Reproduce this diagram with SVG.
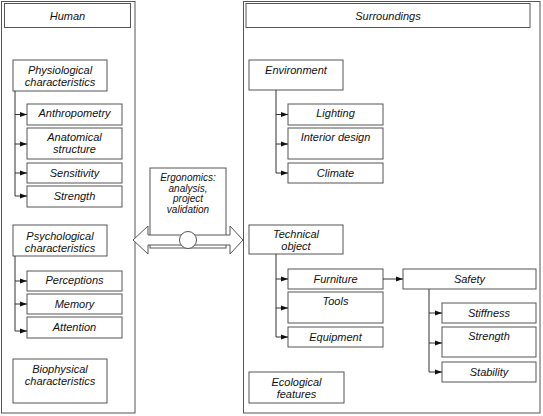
<svg xmlns="http://www.w3.org/2000/svg" width="543" height="416" viewBox="0 0 543 416">
<style>
.b{fill:#fff;stroke:#555;stroke-width:1}
.o{fill:none;stroke:#555;stroke-width:1}
.t{font-family:"Liberation Sans",Arial,sans-serif;font-style:italic;font-size:11px;fill:#111;text-anchor:middle}
.e{font-size:10px}
.c{fill:none;stroke:#333;stroke-width:1}
</style>
<defs>
<marker id="ah" markerUnits="userSpaceOnUse" markerWidth="7" markerHeight="6" refX="7" refY="3" orient="auto">
<path d="M0,0.5 L7,3 L0,5.5 Z" fill="#111"/>
</marker>
</defs>
<rect width="543" height="416" fill="#fff"/>
<g id="human">
<rect class="o" x="1.5" y="1.5" width="133.5" height="411.5"/>
<rect class="b" x="4.5" y="3.5" width="126" height="24"/>
<text class="t" x="67.5" y="19.5">Human</text>
</g>
<g id="physiological"><rect class="b" x="13" y="60" width="94" height="31"/><text class="t" x="60" y="74">Physiological</text><text class="t" x="60" y="86">characteristics</text></g>
<g id="anthropometry"><rect class="b" x="27" y="104" width="95" height="21"/><text class="t" x="74.5" y="117">Anthropometry</text></g>
<g id="anatomical"><rect class="b" x="27" y="128" width="95" height="31"/><text class="t" x="74.5" y="141">Anatomical</text><text class="t" x="74.5" y="152.5">structure</text></g>
<g id="sensitivity"><rect class="b" x="27" y="163" width="95" height="20"/><text class="t" x="74.5" y="176.5">Sensitivity</text></g>
<g id="strength-h"><rect class="b" x="27" y="186" width="95" height="21"/><text class="t" x="74.5" y="199.5">Strength</text></g>
<g id="psychological"><rect class="b" x="13" y="225" width="94" height="31"/><text class="t" x="60" y="239.5">Psychological</text><text class="t" x="60" y="251.5">characteristics</text></g>
<g id="perceptions"><rect class="b" x="27" y="271" width="95" height="20"/><text class="t" x="74.5" y="284">Perceptions</text></g>
<g id="memory"><rect class="b" x="27" y="294" width="95" height="20"/><text class="t" x="74.5" y="307.5">Memory</text></g>
<g id="attention"><rect class="b" x="27" y="317" width="95" height="21"/><text class="t" x="74.5" y="331">Attention</text></g>
<g id="biophysical"><rect class="b" x="13" y="359" width="94" height="44"/><text class="t" x="60" y="372.5">Biophysical</text><text class="t" x="60" y="385">characteristics</text></g>

<g id="surroundings">
<rect class="o" x="243.5" y="1.5" width="296.5" height="411.5"/>
<rect class="b" x="246" y="3.5" width="284" height="24"/>
<text class="t" x="388" y="19.5">Surroundings</text>
</g>
<g id="environment"><rect class="b" x="249" y="60" width="94" height="30"/><text class="t" x="296" y="73.5">Environment</text></g>
<g id="lighting"><rect class="b" x="288" y="104" width="95" height="21"/><text class="t" x="335.5" y="117">Lighting</text></g>
<g id="interior"><rect class="b" x="288" y="128" width="95" height="31"/><text class="t" x="335.5" y="140.5">Interior design</text></g>
<g id="climate"><rect class="b" x="288" y="163" width="95" height="20"/><text class="t" x="335.5" y="176.5">Climate</text></g>
<g id="technical"><rect class="b" x="249" y="225" width="94" height="29"/><text class="t" x="296" y="238">Technical</text><text class="t" x="296" y="249.5">object</text></g>
<g id="furniture"><rect class="b" x="288" y="269" width="95" height="20"/><text class="t" x="335.5" y="282.5">Furniture</text></g>
<g id="tools"><rect class="b" x="288" y="292" width="95" height="31"/><text class="t" x="335.5" y="305">Tools</text></g>
<g id="equipment"><rect class="b" x="288" y="327" width="95" height="20"/><text class="t" x="335.5" y="340.5">Equipment</text></g>
<g id="safety"><rect class="b" x="403" y="269" width="133" height="20"/><text class="t" x="469.5" y="282.5">Safety</text></g>
<g id="stiffness"><rect class="b" x="442" y="303" width="94" height="20"/><text class="t" x="489" y="316.5">Stiffness</text></g>
<g id="strength-s"><rect class="b" x="442" y="327" width="94" height="30"/><text class="t" x="489" y="339.5">Strength</text></g>
<g id="stability"><rect class="b" x="442" y="362" width="94" height="20"/><text class="t" x="489" y="375.5">Stability</text></g>
<g id="ecological"><rect class="b" x="249" y="372" width="95" height="31"/><text class="t" x="296.5" y="386">Ecological</text><text class="t" x="296.5" y="398">features</text></g>

<g id="ergonomics">
<rect class="b" x="150" y="168" width="76" height="80"/>
<text class="t e" x="188" y="181">Ergonomics:</text>
<text class="t e" x="188" y="191.5">analysis,</text>
<text class="t e" x="188" y="202">project</text>
<text class="t e" x="188" y="212.5">validation</text>
<polygon class="b" points="133,240 148,226 148,235 230,235 230,226 243,240 230,254 230,245 148,245 148,254"/>
<circle class="b" cx="188" cy="240" r="8.5"/>
</g>

<g id="connectors">
<path class="c" d="M15,91 V196 M15,256 V331 M276,90 V173 M276,254 V337 M429,289 V372"/>
<path class="c" marker-end="url(#ah)" d="M15,114.5 H27"/>
<path class="c" marker-end="url(#ah)" d="M15,144 H27"/>
<path class="c" marker-end="url(#ah)" d="M15,173 H27"/>
<path class="c" marker-end="url(#ah)" d="M15,196 H27"/>
<path class="c" marker-end="url(#ah)" d="M15,281 H27"/>
<path class="c" marker-end="url(#ah)" d="M15,304 H27"/>
<path class="c" marker-end="url(#ah)" d="M15,331 H27"/>
<path class="c" marker-end="url(#ah)" d="M276,114.5 H288"/>
<path class="c" marker-end="url(#ah)" d="M276,144 H288"/>
<path class="c" marker-end="url(#ah)" d="M276,173 H288"/>
<path class="c" marker-end="url(#ah)" d="M276,279 H288"/>
<path class="c" marker-end="url(#ah)" d="M276,308 H288"/>
<path class="c" marker-end="url(#ah)" d="M276,337 H288"/>
<path class="c" marker-end="url(#ah)" d="M383,279 H403"/>
<path class="c" marker-end="url(#ah)" d="M429,313 H442"/>
<path class="c" marker-end="url(#ah)" d="M429,343 H442"/>
<path class="c" marker-end="url(#ah)" d="M429,372 H442"/>
</g>
</svg>
